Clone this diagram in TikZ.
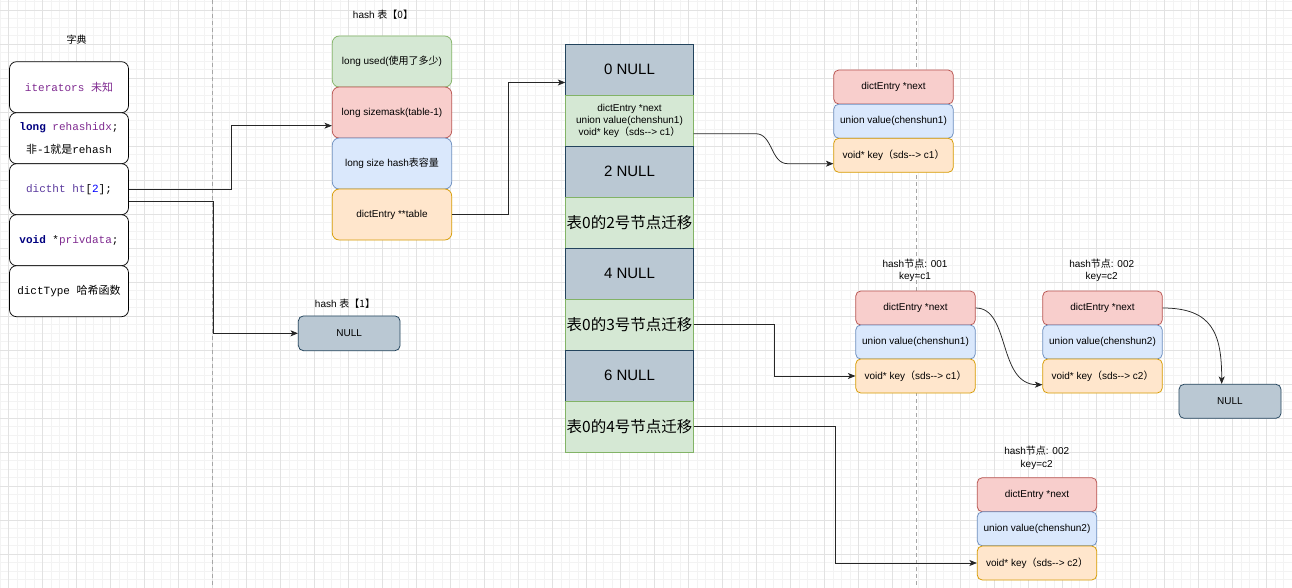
\documentclass[tikz,border=0pt]{standalone}
\usepackage{fontspec}
\setmainfont{Liberation Sans}[Ligatures=NoCommon]
\newfontfamily\cjk{Noto Sans CJK SC}
\newfontfamily\mono{Liberation Mono}
\usetikzlibrary{arrows.meta}
\definecolor{cgfill}{HTML}{D5E8D4}\definecolor{cgline}{HTML}{82B366}
\definecolor{crfill}{HTML}{F8CECC}\definecolor{crline}{HTML}{B85450}
\definecolor{cbfill}{HTML}{DAE8FC}\definecolor{cbline}{HTML}{6C8EBF}
\definecolor{cofill}{HTML}{FFE6CC}\definecolor{coline}{HTML}{D79B00}
\definecolor{csfill}{HTML}{BAC8D3}\definecolor{csline}{HTML}{23445D}
\definecolor{cpurple}{HTML}{7F2A90}\definecolor{cind}{HTML}{5B3A9E}
\definecolor{cnavy}{HTML}{000080}\definecolor{cblue}{HTML}{0000FF}
\definecolor{gridminor}{HTML}{F3F3F3}\definecolor{gridmajor}{HTML}{E2E2E2}
\begin{document}
\begin{tikzpicture}[x=1pt,y=-1pt,
  rowbase/.style={draw, line width=0.75pt, inner sep=1pt, align=center, font=\fontsize{10}{12}\selectfont},
  dictrow/.style={rowbase, fill=white, draw=black, rounded corners=7pt, minimum width=119pt, minimum height=51pt, font=\mono\fontsize{11}{13}\selectfont},
  hrow/.style={rowbase, rounded corners=7pt, minimum width=119.4pt, minimum height=51pt},
  arow/.style={rowbase, minimum width=127.6pt, minimum height=51pt},
  erow/.style={rowbase, rounded corners=5pt, minimum width=119.5pt, minimum height=34pt},
  cgreen/.style={fill=cgfill, draw=cgline},
  cred/.style={fill=crfill, draw=crline},
  cblu/.style={fill=cbfill, draw=cbline},
  corange/.style={fill=cofill, draw=coline},
  cslate/.style={fill=csfill, draw=csline},
  lbl/.style={font=\fontsize{10}{12.7}\selectfont, align=center, inner sep=0pt},
  big/.style={font=\fontsize{15}{18}\selectfont},
  bigcjk/.style={font=\cjk\fontsize{15.5}{18}\selectfont},
  conn/.style={draw=black!85, line width=0.75pt, -{Stealth[length=7.5pt,width=6pt,inset=2pt]}},
  pageline/.style={draw=black!35, line width=0.75pt, dash pattern=on 4pt off 3pt}
]
\useasboundingbox (0,0) rectangle (1292,588);
\fill[white] (0,0) rectangle (1292,588);
% grid
\foreach \k in {0,...,152}{\pgfmathsetmacro\xx{8.5*\k}\draw[gridminor,line width=0.7pt] (\xx,0) -- (\xx,588);}
\foreach \k in {0,...,69}{\pgfmathsetmacro\yy{1.5+8.5*\k}\draw[gridminor,line width=0.7pt] (0,\yy) -- (1292,\yy);}
\foreach \k in {0,...,37}{\pgfmathsetmacro\xx{8.5+34*\k}\draw[gridmajor,line width=0.7pt] (\xx,0) -- (\xx,588);}
\foreach \k in {0,...,17}{\pgfmathsetmacro\yy{10+34*\k}\draw[gridmajor,line width=0.7pt] (0,\yy) -- (1292,\yy);}
\draw[pageline] (212.5,0) -- (212.5,588);
\draw[pageline] (916.5,0) -- (916.5,588);

% dict
\node[lbl] (tdict) at (76.7,39.3) {\cjk 字典};
\node[dictrow] (d1) at (69,87.2) {\color{cpurple}iterators {\cjk 未知}};
\node[dictrow] (d2) at (69,138.2) {\textbf{\color{cnavy}long} {\color{cpurple}rehashidx};\\[10pt]{\cjk 非}-1{\cjk 就是}rehash};
\node[dictrow] (d3) at (69,189.2) {{\color{cind}dictht ht}[{\color{cblue}2}];};
\node[dictrow] (d4) at (69,240.2) {\textbf{\color{cnavy}void} *{\color{cpurple}privdata};};
\node[dictrow] (d5) at (69,291.2) {dictType {\cjk 哈希函数}};

% hash table 0
\node[lbl] (th0) at (383,14.3) {hash {\cjk 表【0】}};
\node[hrow,cgreen] (h0a) at (392,61.5) {long used({\cjk 使用了多少})};
\node[hrow,cred] (h0b) at (392,112.5) {long sizemask(table-1)};
\node[hrow,cblu] (h0c) at (392,163.5) {long size hash{\cjk 表容量}};
\node[hrow,corange] (h0d) at (392,214.5) {dictEntry **table};

% hash table 1
\node[lbl] (th1) at (345,303.3) {hash {\cjk 表【1】}};
\node[rowbase,cslate,rounded corners=5pt,minimum width=101.7pt,minimum height=34.7pt] (n1) at (349.2,333.3) {NULL};

% array
\node[arow,cslate,big] (a0) at (629.5,69.8) {0 NULL};
\node[arow,cgreen] (a1) at (629.5,120.8) {dictEntry *next\\union value(chenshun1)\\void* key{\cjk （}sds-{}-> c1{\cjk ）}};
\node[arow,cslate,big] (a2) at (629.5,171.8) {2 NULL};
\node[arow,cgreen,bigcjk] (a3) at (629.5,222.8) {表0的2号节点迁移};
\node[arow,cslate,big] (a4) at (629.5,273.8) {4 NULL};
\node[arow,cgreen,bigcjk] (a5) at (629.5,324.8) {表0的3号节点迁移};
\node[arow,cslate,big] (a6) at (629.5,375.8) {6 NULL};
\node[arow,cgreen,bigcjk] (a7) at (629.5,426.8) {表0的4号节点迁移};

% node A
\node[erow,cred] (nA1) at (893.5,87) {dictEntry *next};
\node[erow,cblu] (nA2) at (893.5,121.2) {union value(chenshun1)};
\node[erow,corange] (nA3) at (893.5,155.3) {void* key{\cjk （}sds-{}-> c1{\cjk ）}};

% node B
\node[lbl] (tB) at (915,270.4) {hash{\cjk 节点}: 001\\key=c1};
\node[erow,cred] (nB1) at (915.5,308) {dictEntry *next};
\node[erow,cblu] (nB2) at (915.5,342) {union value(chenshun1)};
\node[erow,corange] (nB3) at (915.5,376) {void* key{\cjk （}sds-{}-> c1{\cjk ）}};

% node C
\node[lbl] (tC) at (1101.7,270.4) {hash{\cjk 节点}: 002\\key=c2};
\node[erow,cred] (nC1) at (1102.5,308) {dictEntry *next};
\node[erow,cblu] (nC2) at (1102.5,342) {union value(chenshun2)};
\node[erow,corange] (nC3) at (1102.5,376) {void* key{\cjk （}sds-{}-> c2{\cjk ）}};

\node[rowbase,cslate,rounded corners=5pt,minimum width=102pt,minimum height=34pt] (nR) at (1230,401.3) {NULL};

% node D
\node[lbl] (tD) at (1036.7,457.5) {hash{\cjk 节点}: 002\\key=c2};
\node[erow,cred] (nD1) at (1037,494.7) {dictEntry *next};
\node[erow,cblu] (nD2) at (1037,528.8) {union value(chenshun2)};
\node[erow,corange] (nD3) at (1037,563) {void* key{\cjk （}sds-{}-> c2{\cjk ）}};

% connectors
\draw[conn] (d3.east) -- ++(102,0) |- ([yshift=-13.2pt]h0b.west);
\draw[conn] ([yshift=-12.5pt]d3.east) -- ++(84,0) |- (n1.west);
\draw[conn] (h0d.east) -- ++(56.6,0) |- ([yshift=-12.7pt]a0.west);
\draw[conn] ([yshift=-12.9pt]a1.east) -- ++(62,0) to[out=0,in=180] ++(32,30) -- ([yshift=-8.4pt]nA3.west);
\draw[conn] (a5.east) -- ++(81,0) |- (nB3.west);
\draw[conn] (a7.east) -- ++(142,0) |- (nD3.west);
\draw[conn] (nB1.east) .. controls +(35,0) and +(-45,0) .. ([yshift=-8.7pt]nC3.west);
\draw[conn] (nC1.east) .. controls +(50,0) and +(0,-50) .. ([xshift=-8.3pt]nR.north);
\end{tikzpicture}
\end{document}
